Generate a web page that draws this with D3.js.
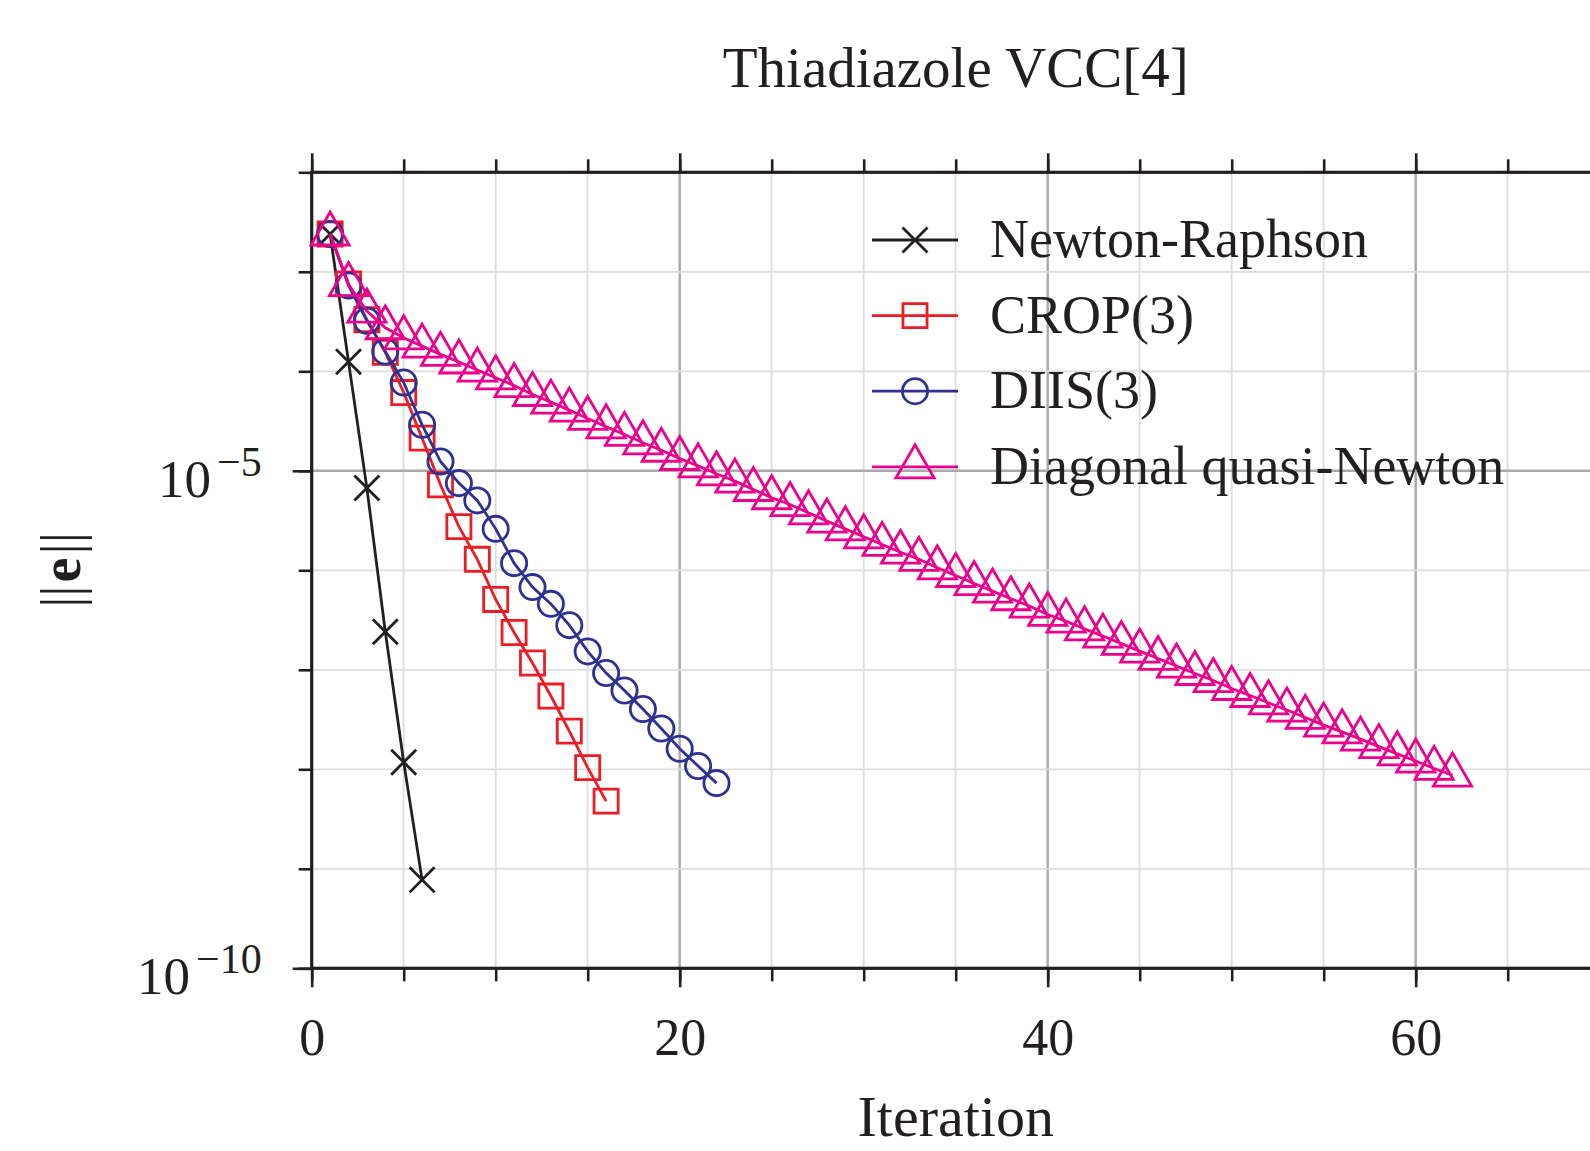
<!DOCTYPE html>
<html>
<head>
<meta charset="utf-8">
<script src="https://cdn.jsdelivr.net/npm/d3@7"></script>
<style>
  body { margin: 0; background: #fff; }
  svg text { font-family: "Liberation Serif", "Times New Roman", serif; fill: #231f20; }
</style>
</head>
<body>
<div class="fig"></div>
<script>

// values, iteration = index + 1
var newtonRaphson = [2.4e-3, 1.25e-4, 6.70e-6, 2.41e-7, 1.18e-8, 7.74e-10];

var crop3 = [2.4e-3, 7.57e-4, 3.30e-4, 1.55e-4, 6.12e-5, 2.13e-5, 7.23e-6, 2.75e-6,
  1.29e-6, 5.09e-7, 2.37e-7, 1.17e-7, 5.45e-8, 2.42e-8, 1.04e-8, 4.79e-9];

var diis3 = [2.4e-3, 7.28e-4, 3.22e-4, 1.58e-4, 7.71e-5, 2.90e-5, 1.24e-5, 7.52e-6,
  5.04e-6, 2.61e-6, 1.18e-6, 6.78e-7, 4.60e-7, 2.81e-7, 1.53e-7, 9.27e-8,
  6.19e-8, 4.03e-8, 2.57e-8, 1.61e-8, 1.08e-8, 7.26e-9];

var diagQN = [2.4e-3, 7.45e-4, 4.03e-4, 2.74e-4, 2.17e-4, 1.79e-4, 1.48e-4, 1.24e-4,
  1.03e-4, 8.61e-5, 7.19e-5, 5.85e-5, 4.90e-5, 4.07e-5, 3.36e-5, 2.77e-5,
  2.32e-5, 1.91e-5, 1.61e-5, 1.33e-5, 1.12e-5, 9.33e-6, 7.87e-6, 6.49e-6,
  5.36e-6, 4.58e-6, 3.78e-6, 3.12e-6, 2.61e-6, 2.17e-6, 1.82e-6, 1.52e-6,
  1.29e-6, 1.06e-6, 8.87e-7, 7.36e-7, 6.18e-7, 5.18e-7, 4.37e-7, 3.60e-7,
  3.08e-7, 2.58e-7, 2.18e-7, 1.84e-7, 1.54e-7, 1.30e-7, 1.09e-7, 9.18e-8,
  7.80e-8, 6.49e-8, 5.52e-8, 4.66e-8, 3.94e-8, 3.32e-8, 2.78e-8, 2.38e-8,
  2.01e-8, 1.69e-8, 1.43e-8, 1.21e-8, 1.02e-8, 8.75e-9];

var seriesNames = ["Newton-Raphson", "CROP(3)", "DIIS(3)", "Diagonal quasi-Newton"];
var seriesColors = ["#231f20", "#ed1c24", "#2e3192", "#ec008c"];

var xTicks = [0, 5, 10, 15, 20, 25, 30, 35, 40, 45, 50, 55, 60, 65, 70];
var xTickLabels = [0, 20, 40, 60];
var yTicks = [1e-10, 1e-9, 1e-8, 1e-7, 1e-6, 1e-5, 1e-4, 1e-3, 1e-2];
var yTickLabels = [1e-10, 1e-5];
var yTickExp = ["\u221210", "\u22125"];


function convergencePlot() {

  var margin = {top: 172.3, left: 311.7};
  var width = 1288;
  var height = 796;
  var ink = "#231f20";

  var svg = d3.select(".fig").append("svg")
    .attr("width", 1590)
    .attr("height", 1151)
    .style("display", "block");

  var g = svg.append("g")
    .attr("transform", "translate(" + margin.left + "," + margin.top + ")");

  var x = d3.scaleLinear().domain([0, 70]).range([0, width]);
  var y = d3.scaleLog().domain([1e-10, 1e-2]).range([height, 0]);

  // grid, light every 5 / decade, darker on the labelled ones
  g.append("g")
    .selectAll("line")
    .data(xTicks.filter(d => d > 0 && d < 70))
    .enter()
    .append("line")
    .attr("x1", d => x(d)).attr("x2", d => x(d))
    .attr("y1", 0).attr("y2", height)
    .attr("stroke", d => d % 20 == 0 ? "#a7a9ac" : "#dcdddf")
    .attr("stroke-width", d => d % 20 == 0 ? 2.4 : 1.8);

  g.append("g")
    .selectAll("line")
    .data(yTicks.filter(d => d > 1e-10 && d < 1e-2))
    .enter()
    .append("line")
    .attr("x1", 0).attr("x2", width)
    .attr("y1", d => y(d)).attr("y2", d => y(d))
    .attr("stroke", d => yTickLabels.includes(d) ? "#a7a9ac" : "#dcdddf")
    .attr("stroke-width", d => yTickLabels.includes(d) ? 2.4 : 1.8);

  // axes: short ticks everywhere, long ones where the labels are
  function styleAxis(sel) {
    sel.select(".domain").remove();
    sel.selectAll(".tick line").attr("stroke", ink).attr("stroke-width", 2.6);
  }

  g.append("g")
    .attr("transform", "translate(0," + height + ")")
    .call(d3.axisBottom(x).tickValues(xTicks).tickSize(13).tickFormat(""))
    .call(styleAxis);

  g.append("g")
    .attr("transform", "translate(0," + height + ")")
    .call(d3.axisBottom(x).tickValues(xTickLabels).tickSize(19).tickPadding(31).tickFormat(d3.format("d")))
    .call(styleAxis)
    .selectAll("text")
    .style("font-size", "52px")
    .attr("fill", ink);

  g.append("g")
    .call(d3.axisTop(x).tickValues(xTicks).tickSize(13).tickFormat(""))
    .call(styleAxis);

  g.append("g")
    .call(d3.axisTop(x).tickValues(xTickLabels).tickSize(19).tickFormat(""))
    .call(styleAxis);

  g.append("g")
    .call(d3.axisLeft(y).tickValues(yTicks).tickSize(13).tickFormat(""))
    .call(styleAxis);

  var yLab = g.append("g")
    .call(d3.axisLeft(y).tickValues(yTickLabels).tickSize(19).tickPadding(31).tickFormat(""))
    .call(styleAxis);

  yLab.selectAll(".tick text")
    .attr("dy", "0.48em")
    .style("font-size", "53px")
    .attr("fill", ink)
    .each(function(d, i) {
      var t = d3.select(this);
      t.append("tspan").text("10");
      t.append("tspan")
        .text(yTickExp[i])
        .attr("dx", 6)
        .attr("dy", -21)
        .style("font-size", "42px");
    });

  // frame (right side falls outside the picture)
  g.append("rect")
    .attr("width", width)
    .attr("height", height)
    .attr("fill", "none")
    .attr("stroke", ink)
    .attr("stroke-width", 3.2);

  // series
  var allSeries = [newtonRaphson, crop3, diis3, diagQN];
  var symbols = [
    d3.symbol().type(d3.symbolTimes).size(410),
    d3.symbol().type(d3.symbolSquare).size(580),
    d3.symbol().type(d3.symbolCircle).size(500),
    d3.symbol().type(d3.symbolTriangle).size(630)
  ];

  var lineGen = d3.line()
    .x((d, i) => x(i + 1))
    .y(d => y(d));

  allSeries.forEach(function(vals, k) {
    var s = g.append("g");

    s.append("path")
      .attr("d", lineGen(vals))
      .attr("fill", "none")
      .attr("stroke", seriesColors[k])
      .attr("stroke-width", 2.8);

    s.selectAll("path.mark")
      .data(vals)
      .enter()
      .append("path")
      .attr("class", "mark")
      .attr("d", symbols[k])
      .attr("transform", (d, i) => "translate(" + x(i + 1) + "," + y(d) + ")")
      .attr("fill", "none")
      .attr("stroke", seriesColors[k])
      .attr("stroke-width", 2.8);
  });

  // legend, no box
  var legend = svg.append("g")
    .selectAll("g")
    .data(seriesNames)
    .enter()
    .append("g")
    .attr("transform", (d, i) => "translate(872," + (240 + 75.6 * i) + ")");

  legend.append("line")
    .attr("x1", 0).attr("x2", 86)
    .attr("stroke", (d, i) => seriesColors[i])
    .attr("stroke-width", 2.8);

  legend.append("path")
    .attr("d", (d, i) => symbols[i]())
    .attr("transform", "translate(43,0)")
    .attr("fill", "none")
    .attr("stroke", (d, i) => seriesColors[i])
    .attr("stroke-width", 2.8);

  legend.append("text")
    .text(d => d)
    .attr("x", 118)
    .attr("y", 17)
    .style("font-size", "54px");

  // titles
  svg.append("text")
    .text("Thiadiazole VCC[4]")
    .attr("x", margin.left + width / 2)
    .attr("y", 87)
    .attr("text-anchor", "middle")
    .style("font-size", "57px");

  svg.append("text")
    .text("Iteration")
    .attr("x", margin.left + width / 2)
    .attr("y", 1136)
    .attr("text-anchor", "middle")
    .style("font-size", "58px");

  var yTitle = svg.append("text")
    .attr("transform", "translate(80,570) rotate(-90)")
    .attr("text-anchor", "middle")
    .style("font-size", "56px");
  yTitle.append("tspan").text("||");
  yTitle.append("tspan").text("e").attr("dx", 3).style("font-weight", "bold");
  yTitle.append("tspan").text("||").attr("dx", 3);
}

convergencePlot();
</script>
</body>
</html>
